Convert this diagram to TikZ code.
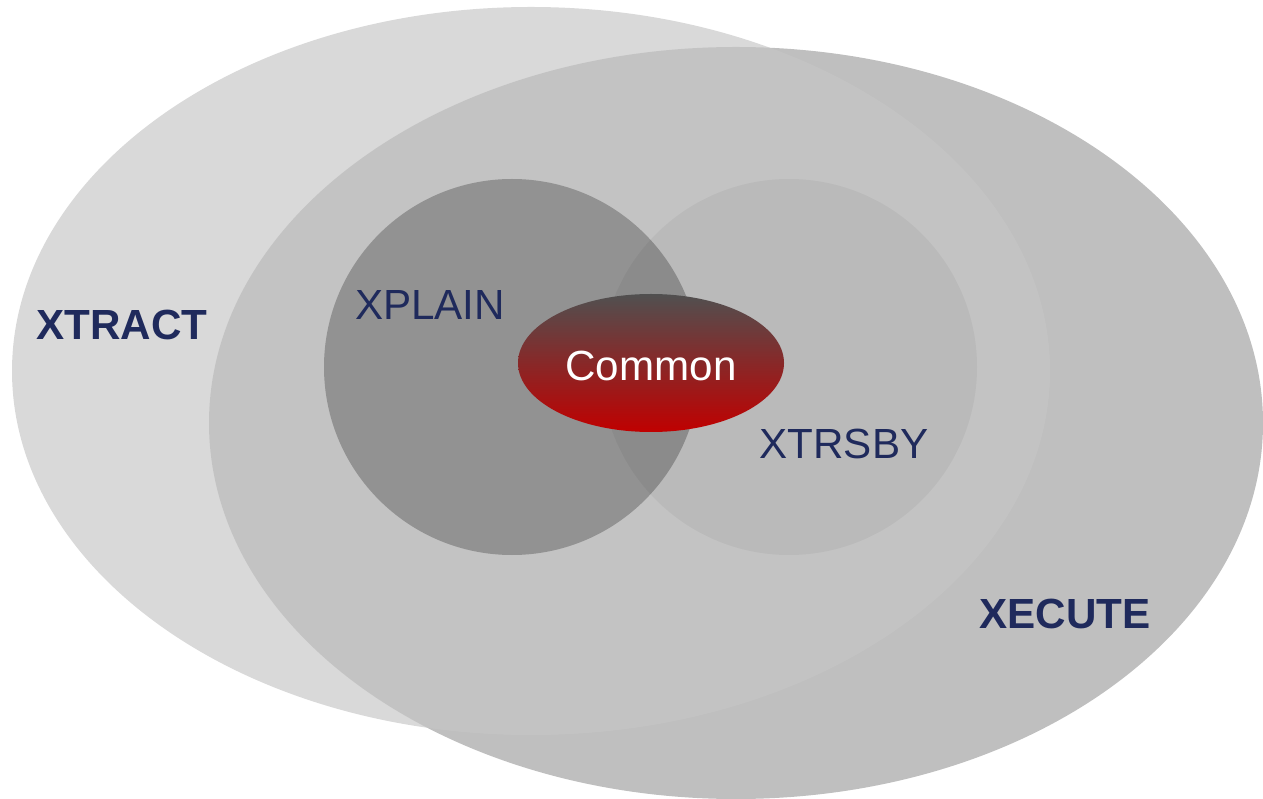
\documentclass[tikz,border=0pt]{standalone}
\usepackage{fontspec}
\setmainfont{Liberation Sans}
\usepackage{tikz}
\usetikzlibrary{positioning}

\definecolor{navy}{RGB}{31,42,92}
\definecolor{outergray}{RGB}{198,198,198}
\definecolor{execgray}{RGB}{191,191,191}
\definecolor{topgray}{RGB}{80,80,80}
\definecolor{bottomred}{RGB}{192,0,0}

\begin{document}
\begin{tikzpicture}[x=0.02cm, y=0.02cm,
  lbl/.style={anchor=base, inner sep=0pt, text=navy, font=\fontsize{24}{28}\selectfont},
  biglbl/.style={lbl, font=\fontsize{24}{28}\selectfont\bfseries}
]
\useasboundingbox (0,0) rectangle (1263,798);
\clip (0,0) rectangle (1263,798);
% outer sets
\fill[execgray] (736,375) ellipse [x radius=527, y radius=376];
\fill[outergray, fill opacity=0.67] (531,427) ellipse [x radius=519, y radius=364];
% inner sets
\fill[black, fill opacity=0.045] (789,431) circle [radius=188];
\fill[black, fill opacity=0.25] (512,431) circle [radius=188];
\shade[top color=topgray, bottom color=bottomred] (651,435) ellipse [x radius=133, y radius=69];
% labels
\node[biglbl] (xtract) at (122,458) {XTRACT};
\node[biglbl] (xecute) at (1065,170) {XECUTE};
\node[lbl] (xplain) at (430,478) {XPLAIN};
\node[lbl] (xtrsby) at (844,339) {XTRSBY};
\node[lbl, text=white] (common) at (651,417) {Common};
\end{tikzpicture}
\end{document}
